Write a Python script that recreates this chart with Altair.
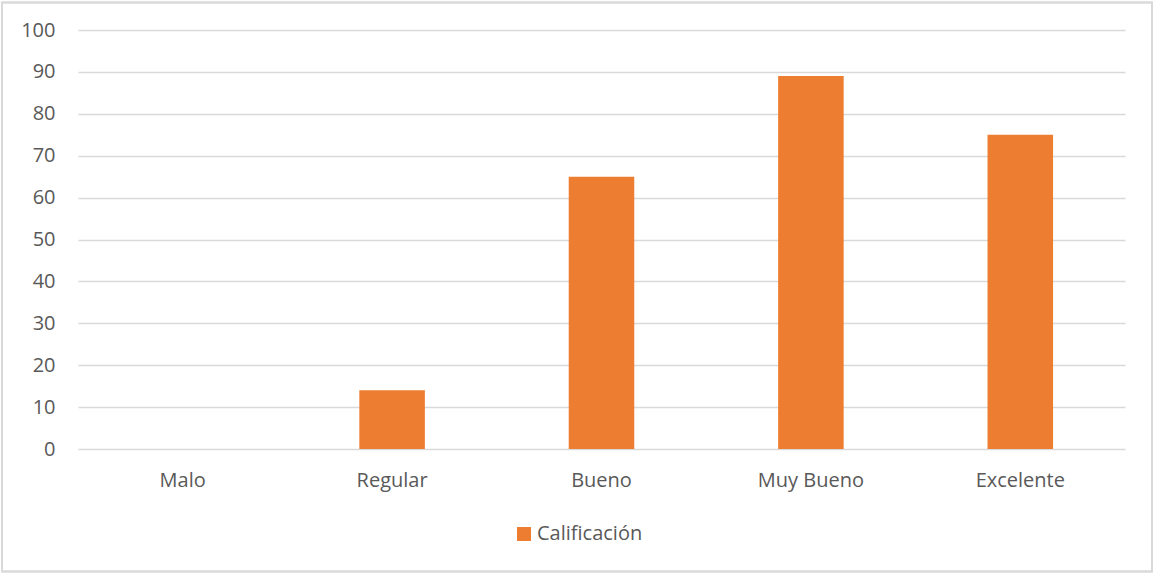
import altair as alt
import pandas as pd

# Rating categories and the counts for each
categorias = ["Malo", "Regular", "Bueno", "Muy Bueno", "Excelente"]
valores = [0, 14, 65, 89, 75]
serie = "Calificación"

df = pd.DataFrame({
    "categoria": categorias,
    "valor": valores,
    "serie": [serie] * len(categorias),
})

FONT = "Open Sans"
TEXT = "#595959"
GRID = "#d9d9d9"
ORANGE = "#ED7D31"

W, H = 1047, 419

bars = alt.Chart(df).mark_bar().encode(
    x=alt.X(
        "categoria:N",
        sort=categorias,
        scale=alt.Scale(paddingInner=0.687, paddingOuter=0.3435),
        axis=alt.Axis(
            title=None, labelAngle=0, domain=False, ticks=False, grid=False,
            labelPadding=21, labelFontSize=20, labelColor=TEXT, labelFont=FONT,
        ),
    ),
    y=alt.Y(
        "valor:Q",
        scale=alt.Scale(domain=[0, 100], nice=False),
        axis=alt.Axis(
            title=None, values=list(range(0, 101, 10)), domain=False, ticks=False,
            labelPadding=23, labelFontSize=20, labelColor=TEXT, labelFont=FONT,
            gridColor=GRID, gridWidth=1.3,
        ),
    ),
    color=alt.Color(
        "serie:N",
        scale=alt.Scale(range=[ORANGE]),
        legend=alt.Legend(
            title=None, orient="none", legendX=436, legendY=494,
            symbolType="square", symbolSize=196, symbolStrokeWidth=0,
            labelFontSize=20, labelColor=TEXT, labelFont=FONT, labelOffset=3,
        ),
    ),
)

# Thin frame around the whole chart
frame = alt.Chart(df).mark_rect(
    fill=None, stroke=GRID, strokeWidth=1.5
).encode(
    x=alt.value(-76), x2=alt.value(1074),
    y=alt.value(-27.5), y2=alt.value(541.5),
)

chart = alt.layer(frame, bars).properties(
    width=W, height=H,
    autosize=alt.AutoSizeParams(type="none"),
    padding={"left": 78, "top": 30, "right": 30, "bottom": 124},
    background="white",
).configure_view(stroke=None, strokeWidth=0)

chart.save("out.html", embed_options={"renderer": "svg", "actions": False})
